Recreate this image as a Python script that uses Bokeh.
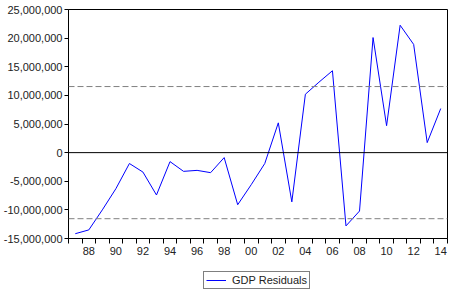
from bokeh.plotting import figure
from bokeh.layouts import column
from bokeh.models import (FixedTicker, NumeralTickFormatter, Span, Legend, LegendItem,
                          ColumnDataSource, Range1d, CustomJSTickFormatter)
from bokeh.embed import file_html
from bokeh.resources import INLINE

years = list(range(1987, 2015))
residuals = [-14.16e6, -13.5e6, -10.0e6, -6.3e6, -1.9e6, -3.4e6, -7.4e6, -1.57e6,
             -3.27e6, -3.1e6, -3.5e6, -0.87e6, -9.1e6, -5.6e6, -1.9e6, 5.2e6,
             -8.6e6, 10.2e6, 12.3e6, 14.3e6, -12.8e6, -10.2e6, 20.1e6, 4.7e6,
             22.25e6, 18.9e6, 1.75e6, 7.7e6]
band = 11.54e6
y_ticks = [-15e6, -10e6, -5e6, 0, 5e6, 10e6, 15e6, 20e6, 25e6]
x_label_years = list(range(1988, 2015, 2))
series_name = "GDP Residuals"

FONT = "Liberation Sans"
LINE_COLOR = "#0000FF"

p = figure(width=450, height=262, output_backend="svg", toolbar_location=None,
           x_range=Range1d(1986.5, 2014.5), y_range=Range1d(-15e6, 25e6),
           min_border_left=67, min_border_right=3, min_border_top=9, min_border_bottom=24)
p.background_fill_color = "white"
p.border_fill_color = "white"
p.outline_line_color = "black"
p.outline_line_width = 1
p.outline_line_alpha = 1
p.xgrid.visible = False
p.ygrid.visible = False

src = ColumnDataSource(dict(x=years, y=residuals))
p.line("x", "y", source=src, line_color=LINE_COLOR, line_width=1)

p.add_layout(Span(location=0, dimension="width", line_color="black", line_width=1))
for loc in (band, -band):
    p.add_layout(Span(location=loc, dimension="width", line_color="#808080",
                      line_width=1, line_dash="6 3"))

# x axis
xa = p.xaxis[0]
xa.ticker = FixedTicker(ticks=x_label_years,
                        minor_ticks=[y - 0.5 for y in years] + [2014.5])
xa.formatter = CustomJSTickFormatter(code="return String(tick % 100).padStart(2, '0');")
xa.major_tick_out = 0
xa.major_tick_in = 0
xa.minor_tick_out = 5
xa.minor_tick_in = 0
xa.minor_tick_line_color = "black"
xa.axis_line_color = "black"
xa.major_label_standoff = 3
xa.major_label_text_font = FONT
xa.major_label_text_font_size = "11px"
xa.major_label_text_color = "#222222"

# y axis
ya = p.yaxis[0]
ya.ticker = FixedTicker(ticks=y_ticks, minor_ticks=[])
ya.formatter = NumeralTickFormatter(format="0,0")
ya.major_tick_out = 4
ya.major_tick_in = 0
ya.minor_tick_out = 0
ya.minor_tick_in = 0
ya.major_tick_line_color = "black"
ya.axis_line_color = "black"
ya.major_label_standoff = 2
ya.major_label_text_font = FONT
ya.major_label_text_font_size = "11px"
ya.major_label_text_color = "#222222"

# legend strip below the chart
p2 = figure(width=450, height=29, output_backend="svg", toolbar_location=None,
            x_range=Range1d(0, 1), y_range=Range1d(0, 1),
            min_border_left=67, min_border_right=3, min_border_top=0, min_border_bottom=0,
            x_axis_type=None, y_axis_type=None)
p2.outline_line_color = None
p2.xgrid.visible = False
p2.ygrid.visible = False
p2.background_fill_color = "white"
p2.border_fill_color = "white"
# proxy renderer for the legend key, placed outside the visible range of the strip
r2 = p2.line(x=[-5, -4], y=[-5, -5], line_color=LINE_COLOR, line_width=1)

legend = Legend(items=[LegendItem(label=series_name, renderers=[r2])],
                location=(135, 2), orientation="horizontal",
                border_line_color="black", border_line_width=1,
                background_fill_color="white", background_fill_alpha=1,
                label_text_font=FONT, label_text_font_size="11px",
                label_text_color="#222222",
                glyph_width=20, glyph_height=10, label_standoff=6,
                padding=2, margin=0, spacing=0, label_height=10)
p2.add_layout(legend, "center")

open("out.html", "w").write(file_html(column(p, p2, spacing=0), INLINE))
